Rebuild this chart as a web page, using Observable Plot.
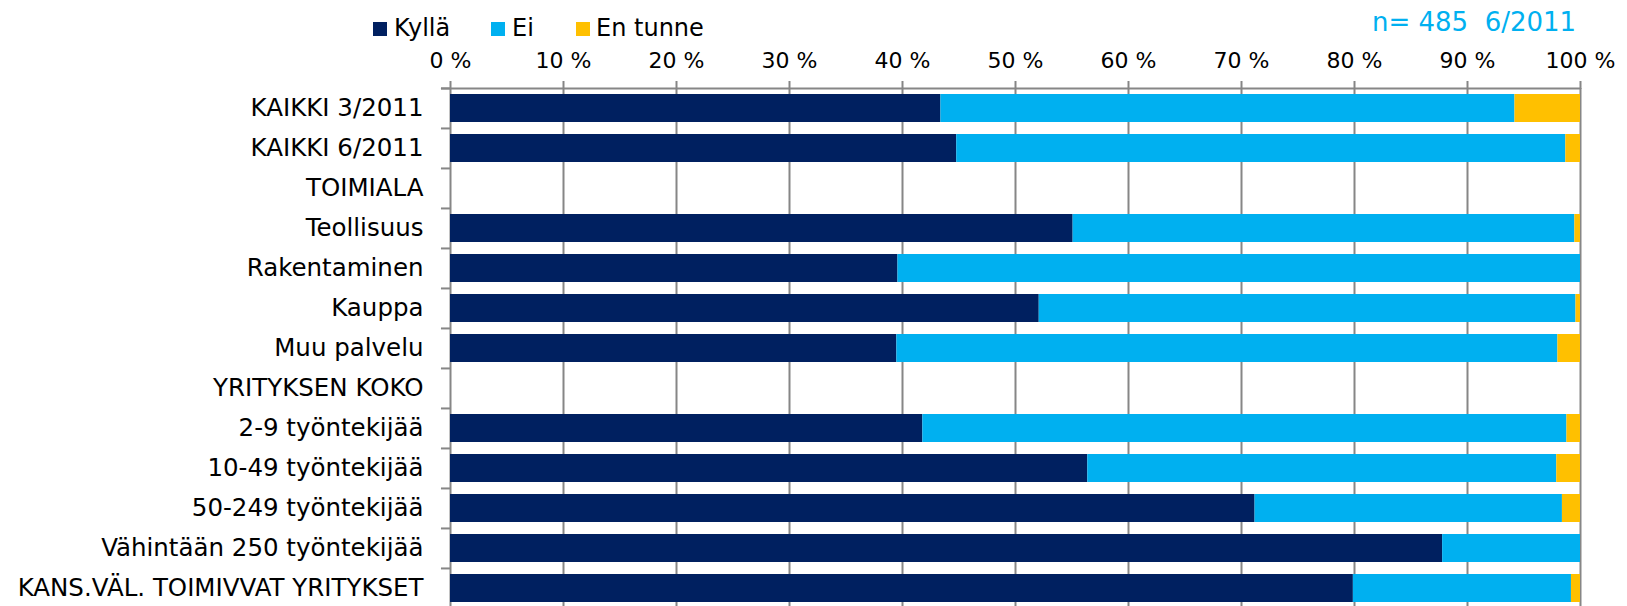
<!DOCTYPE html>
<html>
<head>
<meta charset="utf-8">
<script src="https://cdn.jsdelivr.net/npm/d3@7"></script>
<script src="https://cdn.jsdelivr.net/npm/@observablehq/plot@0.6"></script>
<style>
  html, body { margin: 0; padding: 0; background: #fff; }
  body { width: 1627px; height: 606px; overflow: hidden; font-family: "DejaVu Sans", sans-serif; }
  #header { position: relative; width: 1627px; height: 45px; }
  .sw { position: absolute; top: 22px; width: 14px; height: 14px; }
  .lt { position: absolute; top: 15.7px; font-size: 24px; line-height: 24px; color: #000; white-space: pre; }
  #note { position: absolute; left: 1372px; top: 8.7px; font-size: 26px; line-height: 26px; color: #00B0F0; white-space: pre; }
</style>
</head>
<body>
<div id="header"></div>
<div id="chart"></div>
<script>
const categories = [
  "KAIKKI 3/2011", "KAIKKI 6/2011", "TOIMIALA", "Teollisuus", "Rakentaminen",
  "Kauppa", "Muu palvelu", "YRITYKSEN KOKO", "2-9 työntekijää", "10-49 työntekijää",
  "50-249 työntekijää", "Vähintään 250 työntekijää", "KANS.VÄL. TOIMIVVAT YRITYKSET"
];
const series = ["Kyllä", "Ei", "En tunne"];
const kylla   = [43.4, 44.8, null, 55.1, 39.6, 52.1, 39.5, null, 41.8, 56.4, 71.2, 87.8, 79.9];
const ei      = [50.8, 53.9, null, 44.4, 60.4, 47.5, 58.5, null, 57.0, 41.5, 27.2, 12.2, 19.3];
const enTunne = [5.8, 1.3, null, 0.5, 0.0, 0.4, 2.0, null, 1.2, 2.1, 1.6, 0.0, 0.8];
const xTicks = [0, 10, 20, 30, 40, 50, 60, 70, 80, 90, 100];
const colors = ["#002060", "#00B0F0", "#FFC000"];
const noteText = "n= 485  6/2011";

const valuesBySeries = [kylla, ei, enTunne];
const table = [];
categories.forEach((c, i) => {
  series.forEach((s, j) => {
    const v = valuesBySeries[j][i];
    if (v != null && v > 0) table.push({cat: c, key: s, value: v});
  });
});

// Header: legend + note
const header = document.getElementById("header");
const legendPos = [[373, 394], [491, 512], [576, 596]];
series.forEach((s, j) => {
  const sw = document.createElement("div");
  sw.className = "sw";
  sw.style.left = legendPos[j][0] + "px";
  sw.style.background = colors[j];
  header.appendChild(sw);
  const t = document.createElement("div");
  t.className = "lt";
  t.style.left = legendPos[j][1] + "px";
  t.textContent = s;
  header.appendChild(t);
});
const note = document.createElement("div");
note.id = "note";
note.textContent = noteText;
header.appendChild(note);

const gray = "#868686";
const frameTop = 43;
const step = 40.1;

const chart = Plot.plot({
  width: 1627,
  height: 561,
  marginTop: frameTop,
  marginLeft: 450,
  marginRight: 47,
  marginBottom: 0,
  style: {fontFamily: "DejaVu Sans", color: "#000", background: "#fff", overflow: "visible"},
  x: {domain: [0, 100]},
  y: {domain: categories, range: [frameTop, frameTop + categories.length * step], paddingInner: 0.289, paddingOuter: 0.1445, align: 0.5},
  color: {domain: series, range: colors},
  marks: [
    Plot.ruleX(xTicks, {x: d => d, stroke: gray, strokeWidth: 2}),
    Plot.barX(table, {y: "cat", x: "value", fill: "key"}),
    Plot.ruleY(categories, {y: d => d, x1: -0.8, x2: 0, dy: -step / 2, stroke: gray, strokeWidth: 2}),
    Plot.ruleY([categories[0]], {y: d => d, x1: -0.8, x2: 100, dy: -step / 2, stroke: gray, strokeWidth: 2}),
    Plot.axisX({anchor: "top", ticks: xTicks, tickFormat: d => d + " %", tickSize: 8, tickPadding: 13,
                fontSize: 22, stroke: gray, strokeWidth: 2, strokeOpacity: 1, fill: "#000", label: null}),
    Plot.axisY({anchor: "left", tickSize: 0, tickPadding: 27, fontSize: 24.5, fill: "#000", label: null})
  ]
});
document.getElementById("chart").appendChild(chart);
</script>
</body>
</html>
